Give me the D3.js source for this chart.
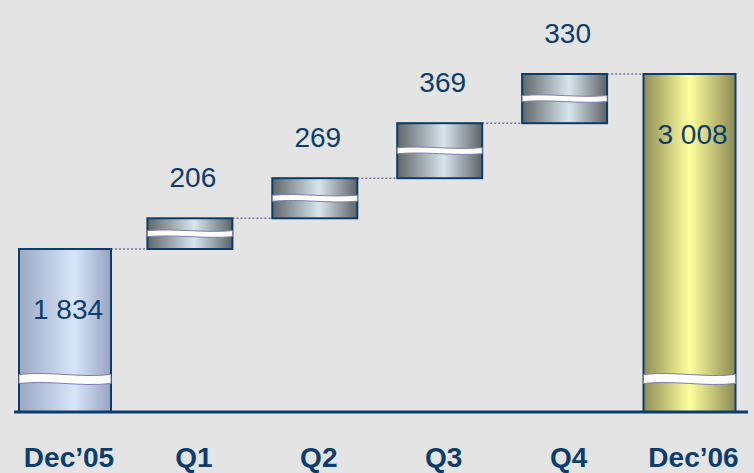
<!DOCTYPE html>
<html>
<head>
<meta charset="utf-8">
<script src="https://cdn.jsdelivr.net/npm/d3@7"></script>
<style>
  html, body { margin: 0; padding: 0; background: #e4e4e4; }
  svg { display: block; }
  text { font-family: "Liberation Sans", Arial, sans-serif; fill: #0b3d6e; }
</style>
</head>
<body>
<svg id="chart" width="754" height="473"></svg>
<script>
// ---- data ----
const categories = ["Dec’05", "Q1", "Q2", "Q3", "Q4", "Dec’06"];
const values     = [1834, 206, 269, 369, 330, 3008];
const kinds      = ["total", "delta", "delta", "delta", "delta", "total"];

// ---- build waterfall ----
let running = 0;
const rows = categories.map((c, i) => {
  let start, end;
  if (kinds[i] === "total") { start = null; end = values[i]; running = values[i]; }
  else { start = running; end = running + values[i]; running = end; }
  return { cat: c, value: values[i], kind: kinds[i], start, end };
});

const W = 754, H = 473;
const baseY = 412;
const svg = d3.select("#chart");

svg.append("rect").attr("width", W).attr("height", H).attr("fill", "#e4e4e4");

const x = d3.scalePoint().domain(categories).range([65, 689.5]);
const y = d3.scaleLinear().domain([values[0], values[values.length - 1]]).range([249, 74]);

const fmt = d3.formatLocale({ decimal: ",", thousands: " ", grouping: [3], currency: ["", ""] }).format(",d");

// gradients
const defs = svg.append("defs");
function grad(id, stops) {
  const g = defs.append("linearGradient").attr("id", id)
    .attr("x1", "0%").attr("x2", "100%").attr("y1", "0%").attr("y2", "0%");
  stops.forEach(s => g.append("stop").attr("offset", s[0]).attr("stop-color", s[1]));
}
grad("gStart", [[0, "#9ba8c3"], [0.6, "#d8e6fb"], [1, "#97a3bf"]]);
grad("gEnd",   [[0, "#8d8d55"], [0.5, "#ffff9e"], [1, "#8a8a52"]]);
grad("gDelta", [[0, "#5f6668"], [0.55, "#d9e5ee"], [1, "#5c6365"]]);

const barW = d => d.kind === "total" ? 92 : 85;
const fillOf = (d, i) => d.kind === "total" ? (i === 0 ? "url(#gStart)" : "url(#gEnd)") : "url(#gDelta)";
const topY = d => y(d.end);
const botY = d => d.kind === "total" ? baseY : y(d.start);

// connectors (dotted)
const conn = svg.append("g");
rows.forEach((d, i) => {
  if (i === rows.length - 1) return;
  const n = rows[i + 1];
  conn.append("line")
    .attr("x1", x(d.cat) + barW(d) / 2)
    .attr("x2", x(n.cat) - barW(n) / 2 + 6)
    .attr("y1", topY(d)).attr("y2", topY(d))
    .attr("stroke", "#7777aa").attr("stroke-width", 1.5)
    .attr("stroke-dasharray", "2,2");
});

// bars
const bars = svg.append("g");
rows.forEach((d, i) => {
  const x0 = x(d.cat) - barW(d) / 2;
  bars.append("rect")
    .attr("x", x0).attr("y", topY(d))
    .attr("width", barW(d)).attr("height", botY(d) - topY(d))
    .attr("fill", fillOf(d, i))
    .attr("stroke", "#0b3d6b").attr("stroke-width", 2);

  // break band
  const cy = d.kind === "total" ? baseY - 33 : (topY(d) + botY(d)) / 2;
  const t = d.kind === "total" ? 4.5 : 3;
  const a = d.kind === "total" ? 3.5 : 2.5;
  const w = barW(d), x1 = x0 + w;
  const path = `M${x0},${cy - t} C${x0 + w / 3},${cy - t - a} ${x0 + 2 * w / 3},${cy - t + a} ${x1},${cy - t}`
    + ` L${x1},${cy + t} C${x0 + 2 * w / 3},${cy + t + a} ${x0 + w / 3},${cy + t - a} ${x0},${cy + t} Z`;
  bars.append("path").attr("d", path)
    .attr("fill", "#ffffff").attr("stroke", "#7d7db0").attr("stroke-width", 1);
});

// baseline
svg.append("line").attr("x1", 14).attr("x2", 748).attr("y1", baseY).attr("y2", baseY)
  .attr("stroke", "#0b3d6b").attr("stroke-width", 3);

// value labels
const lab = svg.append("g");
rows.forEach(d => {
  const cx = x(d.cat) + 3;
  const ly = d.kind === "total" ? topY(d) + 70 : topY(d) - 31;
  lab.append("text").attr("x", cx).attr("y", ly)
    .attr("text-anchor", "middle").attr("font-size", 28)
    .text(fmt(d.value));
});

// category labels
const xAxis = svg.append("g");
categories.forEach(c => {
  xAxis.append("text").attr("x", x(c) + 4).attr("y", 467)
    .attr("text-anchor", "middle").attr("font-size", 28).attr("font-weight", "bold")
    .text(c);
});
</script>
</body>
</html>
